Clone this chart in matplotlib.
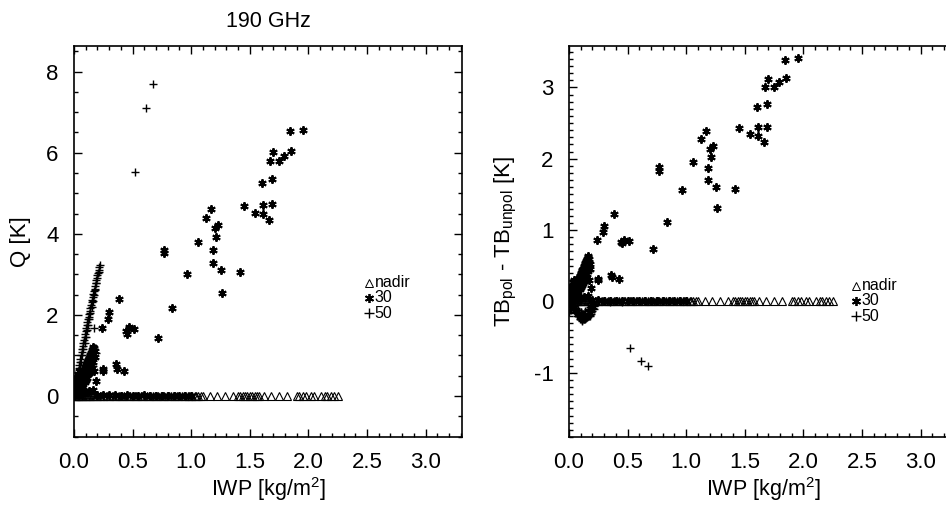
import numpy as np
import matplotlib
matplotlib.use("Agg")
import matplotlib.pyplot as plt
from matplotlib.ticker import MultipleLocator

plt.rcParams['font.family'] = ['Liberation Sans', 'DejaVu Sans']
plt.rcParams['mathtext.default'] = 'regular'
plt.rcParams['axes.unicode_minus'] = False

# ---- data (IWP in kg/m2, Q and TB difference in K) ----
# nadir: Q and TB_pol - TB_unpol are both ~0 for every case
nadir_iwp = [0.00, 0.01, 0.015, 0.02, 0.03, 0.035, 0.04, 0.05, 0.06, 0.07, 0.08, 0.09,
             0.10, 0.11, 0.12, 0.13, 0.14, 0.15, 0.16, 0.18, 0.19, 0.20, 0.22, 0.23,
             0.25, 0.26, 0.28, 0.30, 0.31, 0.33, 0.35, 0.36, 0.38, 0.40, 0.41, 0.43,
             0.45, 0.47, 0.48, 0.50, 0.52, 0.53, 0.55, 0.57, 0.58, 0.60, 0.62, 0.64,
             0.65, 0.67, 0.69, 0.70, 0.72, 0.74, 0.76, 0.77, 0.79, 0.81, 0.83, 0.85,
             0.86, 0.88, 0.90, 0.92, 0.94, 0.95, 0.97, 0.98, 1.00, 1.01, 1.03, 1.04,
             1.06, 1.08, 1.10, 1.16, 1.22, 1.29, 1.36, 1.40, 1.42, 1.44, 1.46, 1.48,
             1.50, 1.52, 1.54, 1.56, 1.58, 1.62, 1.68, 1.75, 1.82, 1.90, 1.92, 1.95,
             1.98, 2.02, 2.05, 2.11, 2.14, 2.16, 2.19, 2.22, 2.25]
nadir_q = np.zeros(len(nadir_iwp))
nadir_dtb = np.zeros(len(nadir_iwp))

# 30 degrees
iwp_30 = [1.95, 1.84, 1.85, 1.70, 1.79, 1.75, 1.67, 1.69, 1.60, 1.69, 1.61, 1.45,
          1.54, 1.61, 1.66, 1.165, 1.13, 1.23, 1.20, 1.21, 1.06, 1.19, 0.77, 0.77,
          1.19, 1.25, 1.42, 0.966, 1.26, 0.385, 0.84, 0.30, 0.29, 0.24, 0.47, 0.51,
          0.44, 0.45, 0.715, 0.245, 0.245, 0.356, 0.365, 0.43, 0.19,
          # dense cluster near the origin
          0.005, 0.01, 0.015, 0.02, 0.025, 0.03, 0.035, 0.04, 0.045, 0.05, 0.055,
          0.06, 0.065, 0.07, 0.075, 0.08, 0.085, 0.09, 0.095, 0.10, 0.105, 0.11,
          0.115, 0.12, 0.125, 0.13, 0.135, 0.14, 0.145, 0.15, 0.155, 0.16, 0.165,
          0.17, 0.175, 0.18, 0.03, 0.05, 0.07, 0.09, 0.11, 0.13, 0.15,
          0.01, 0.02, 0.03, 0.04, 0.06, 0.08, 0.10, 0.12, 0.14, 0.16, 0.17, 0.15,
          0.13, 0.11, 0.09, 0.05, 0.07, 0.10, 0.13, 0.16,
          # small values along the zero line
          0.20, 0.25, 0.30, 0.35, 0.40, 0.45, 0.50, 0.55, 0.60, 0.65, 0.70, 0.75,
          0.80, 0.85, 0.90, 0.95, 1.00]
q_30 = [6.57, 6.54, 6.04, 6.01, 5.91, 5.80, 5.80, 5.36, 5.26, 4.74, 4.72, 4.69,
        4.52, 4.48, 4.33, 4.61, 4.39, 4.21, 4.14, 3.93, 3.80, 3.61, 3.61, 3.53,
        3.29, 3.11, 3.06, 3.02, 2.55, 2.39, 2.18, 2.08, 1.89, 1.68, 1.69, 1.66,
        1.61, 1.54, 1.43, 0.66, 0.61, 0.78, 0.66, 0.62, 0.37,
        0.03, 0.08, 0.11, 0.15, 0.19, 0.22, 0.26, 0.29, 0.34, 0.37, 0.41,
        0.44, 0.48, 0.51, 0.55, 0.59, 0.62, 0.66, 0.69, 0.73, 0.76, 0.80,
        0.84, 0.88, 0.91, 0.95, 0.98, 1.02, 1.06, 1.09, 1.13, 1.17, 1.21,
        1.18, 1.10, 0.96, 0.10, 0.18, 0.25, 0.35, 0.45, 0.58, 0.70,
        0.30, 0.45, 0.55, 0.62, 0.20, 0.30, 0.40, 0.55, 0.70, 0.85, 0.62, 0.95,
        0.75, 0.65, 0.50, 0.05, 0.08, 0.10, 0.12, 0.15,
        0.03, 0.02, 0.02, 0.02, 0.01, 0.02, 0.01, 0.01, 0.02, 0.01, 0.01, 0.01,
        0.01, 0.01, 0.01, 0.01, 0.01]
dtb_30 = [3.41, 3.39, 3.13, 3.12, 3.07, 3.01, 3.00, 2.77, 2.73, 2.45, 2.44, 2.43,
          2.34, 2.32, 2.24, 2.39, 2.27, 2.18, 2.14, 2.03, 1.96, 1.87, 1.89, 1.83,
          1.70, 1.61, 1.58, 1.56, 1.31, 1.23, 1.12, 1.06, 0.98, 0.86, 0.86, 0.85,
          0.83, 0.82, 0.73, 0.32, 0.30, 0.37, 0.34, 0.32, 0.19,
          0.02, 0.04, 0.06, 0.08, 0.10, 0.12, 0.13, 0.15, 0.17, 0.19, 0.21,
          0.23, 0.25, 0.27, 0.29, 0.31, 0.33, 0.35, 0.36, 0.38, 0.40, 0.42,
          0.44, 0.46, 0.48, 0.50, 0.52, 0.54, 0.56, 0.58, 0.60, 0.62, 0.64,
          0.60, 0.52, 0.45, 0.05, 0.09, 0.13, 0.18, 0.23, 0.29, 0.34,
          0.15, 0.22, 0.27, 0.30, 0.10, 0.14, 0.20, 0.26, 0.34, 0.42, 0.30, 0.47,
          0.37, 0.32, 0.25, 0.03, 0.04, 0.05, 0.06, 0.07,
          0.02, 0.02, 0.01, 0.01, 0.01, 0.01, 0.01, 0.01, 0.01, 0.01, 0.00, 0.00,
          0.00, 0.00, 0.00, 0.00, 0.00]

# 50 degrees
iwp_50 = [0.524, 0.613, 0.675,
          0.005, 0.01, 0.015, 0.02, 0.025, 0.03, 0.035, 0.04, 0.045, 0.05, 0.055,
          0.06, 0.065, 0.07, 0.075, 0.08, 0.085, 0.09, 0.095, 0.10, 0.105, 0.11,
          0.115, 0.12, 0.125, 0.13, 0.135, 0.14, 0.145, 0.15, 0.155, 0.16, 0.165,
          0.17, 0.175, 0.18, 0.185, 0.19, 0.195, 0.20, 0.205, 0.21, 0.215, 0.22,
          0.02, 0.04, 0.06, 0.08, 0.10, 0.12, 0.14, 0.16, 0.185, 0.17, 0.005, 0.01,
          0.03, 0.05, 0.07, 0.09, 0.11, 0.13, 0.15, 0.17, 0.19, 0.21,
          0.04, 0.06, 0.08, 0.10, 0.12, 0.14, 0.16, 0.18,
          0.02, 0.01, 0.00, 0.00, 0.005, 0.005,
          0.25, 0.35, 0.45, 0.55, 0.65, 0.75, 0.85, 0.95]
q_50 = [5.52, 7.11, 7.70,
        0.08, 0.18, 0.26, 0.34, 0.43, 0.51, 0.60, 0.68, 0.76, 0.84, 0.92,
        1.00, 1.08, 1.15, 1.23, 1.31, 1.38, 1.46, 1.53, 1.60, 1.67, 1.75,
        1.82, 1.89, 1.96, 2.03, 2.10, 2.17, 2.24, 2.31, 2.38, 2.45, 2.52,
        2.58, 2.65, 2.72, 2.78, 2.85, 2.91, 2.98, 3.04, 3.10, 3.17, 3.24,
        0.12, 0.35, 0.30, 0.55, 0.65, 0.55, 0.85, 0.75, 1.05, 1.68, 0.30, 0.20,
        0.40, 0.70, 1.00, 1.30, 1.62, 1.90, 2.20, 2.50, 2.78, 3.05,
        0.55, 0.85, 1.15, 1.45, 1.75, 2.05, 2.35, 2.62,
        0.05, 0.10, 0.20, 0.40, 0.50, 0.30,
        0.02, 0.01, 0.01, 0.01, 0.01, 0.00, 0.00, 0.00]
dtb_50 = [-0.65, -0.83, -0.90,
          -0.02, -0.03, -0.04, -0.05, -0.06, -0.07, -0.08, -0.09, -0.10, -0.11, -0.12,
          -0.14, -0.15, -0.16, -0.17, -0.18, -0.19, -0.21, -0.22, -0.23, -0.24, -0.26,
          -0.26, -0.25, -0.25, -0.24, -0.24, -0.23, -0.23, -0.22, -0.22, -0.21, -0.21,
          -0.20, -0.20, -0.19, -0.17, -0.15, -0.13, -0.11, -0.09, -0.07, -0.05, -0.04,
          -0.03, -0.06, -0.10, -0.12, -0.15, -0.18, -0.16, -0.12, -0.08, -0.10, 0.12, -0.12,
          -0.10, -0.16, -0.20, -0.25, -0.28, -0.23, -0.20, -0.17, -0.14, -0.10,
          -0.06, -0.09, -0.12, -0.15, -0.17, -0.13, -0.11, -0.08,
          -0.12, -0.08, 0.15, -0.15, 0.10, -0.10,
          -0.01, -0.01, -0.01, 0.00, 0.00, 0.00, 0.00, 0.00]

fig = plt.figure(figsize=(9.46, 5.08), dpi=100)
ax1 = fig.add_axes([74 / 946, 1 - 437 / 508, 388 / 946, 391 / 508])
ax2 = fig.add_axes([569 / 946, 1 - 437 / 508, 388 / 946, 391 / 508])


def draw(ax, y_nadir, y_30, y_50):
    ax.plot(nadir_iwp, y_nadir, linestyle='none', marker='^', ms=5.5,
            mfc='none', mec='black', mew=0.8)
    ax.plot(iwp_30, y_30, linestyle='none', marker=(6, 2, 0), ms=6,
            mec='black', mew=1.4)
    ax.plot(iwp_50, y_50, linestyle='none', marker='+', ms=6,
            mec='black', mew=1.0)
    ax.set_xlim(0, 3.31)
    ax.xaxis.set_minor_locator(MultipleLocator(0.1))
    ax.set_xticks([0, 0.5, 1.0, 1.5, 2.0, 2.5, 3.0])
    ax.set_xticklabels(['0.0', '0.5', '1.0', '1.5', '2.0', '2.5', '3.0'])
    ax.tick_params(which='both', direction='in', top=True, right=True,
                   labelsize=16, width=1.0)
    ax.tick_params(which='major', length=6, pad=11)
    ax.tick_params(which='minor', length=3)
    for s in ax.spines.values():
        s.set_linewidth(1.2)
    ax.set_xlabel('IWP [kg/m$^2$]', fontsize=15.5)
    ax.xaxis.set_label_coords(0.5, -0.098)


def legend(ax, x0, y0, dy):
    kw = dict(transform=ax.transAxes, linestyle='none', color='black', clip_on=False)
    ax.plot(x0, y0, marker='^', ms=5.5, mfc='none', mew=0.7, **kw)
    ax.plot(x0, y0 - dy, marker=(6, 2, 0), ms=6.5, mew=1.3, **kw)
    ax.plot(x0, y0 - 2 * dy, marker='+', ms=7, mew=1.0, **kw)
    for i, t in enumerate(['nadir', '30', '50']):
        ax.text(x0 + 0.014, y0 - i * dy, t, transform=ax.transAxes,
                fontsize=11.5, va='center', ha='left')


draw(ax1, nadir_q, q_30, q_50)
ax1.set_ylim(-1.01, 8.63)
ax1.yaxis.set_major_locator(MultipleLocator(2))
ax1.yaxis.set_minor_locator(MultipleLocator(0.5))
ax1.set_ylabel('Q [K]', fontsize=16)
ax1.yaxis.set_label_coords(-0.11, 0.5)
ax1.set_title('190 GHz', fontsize=15.5, pad=14)
legend(ax1, 0.761, 0.395, 0.039)

draw(ax2, nadir_dtb, dtb_30, dtb_50)
ax2.set_ylim(-1.9, 3.58)
ax2.yaxis.set_major_locator(MultipleLocator(1))
ax2.yaxis.set_minor_locator(MultipleLocator(0.1))
ax2.set_ylabel('TB$_{pol}$ - TB$_{unpol}$ [K]', fontsize=16)
ax2.yaxis.set_label_coords(-0.13, 0.5)
legend(ax2, 0.740, 0.387, 0.039)

fig.savefig('out.png', dpi=100)
